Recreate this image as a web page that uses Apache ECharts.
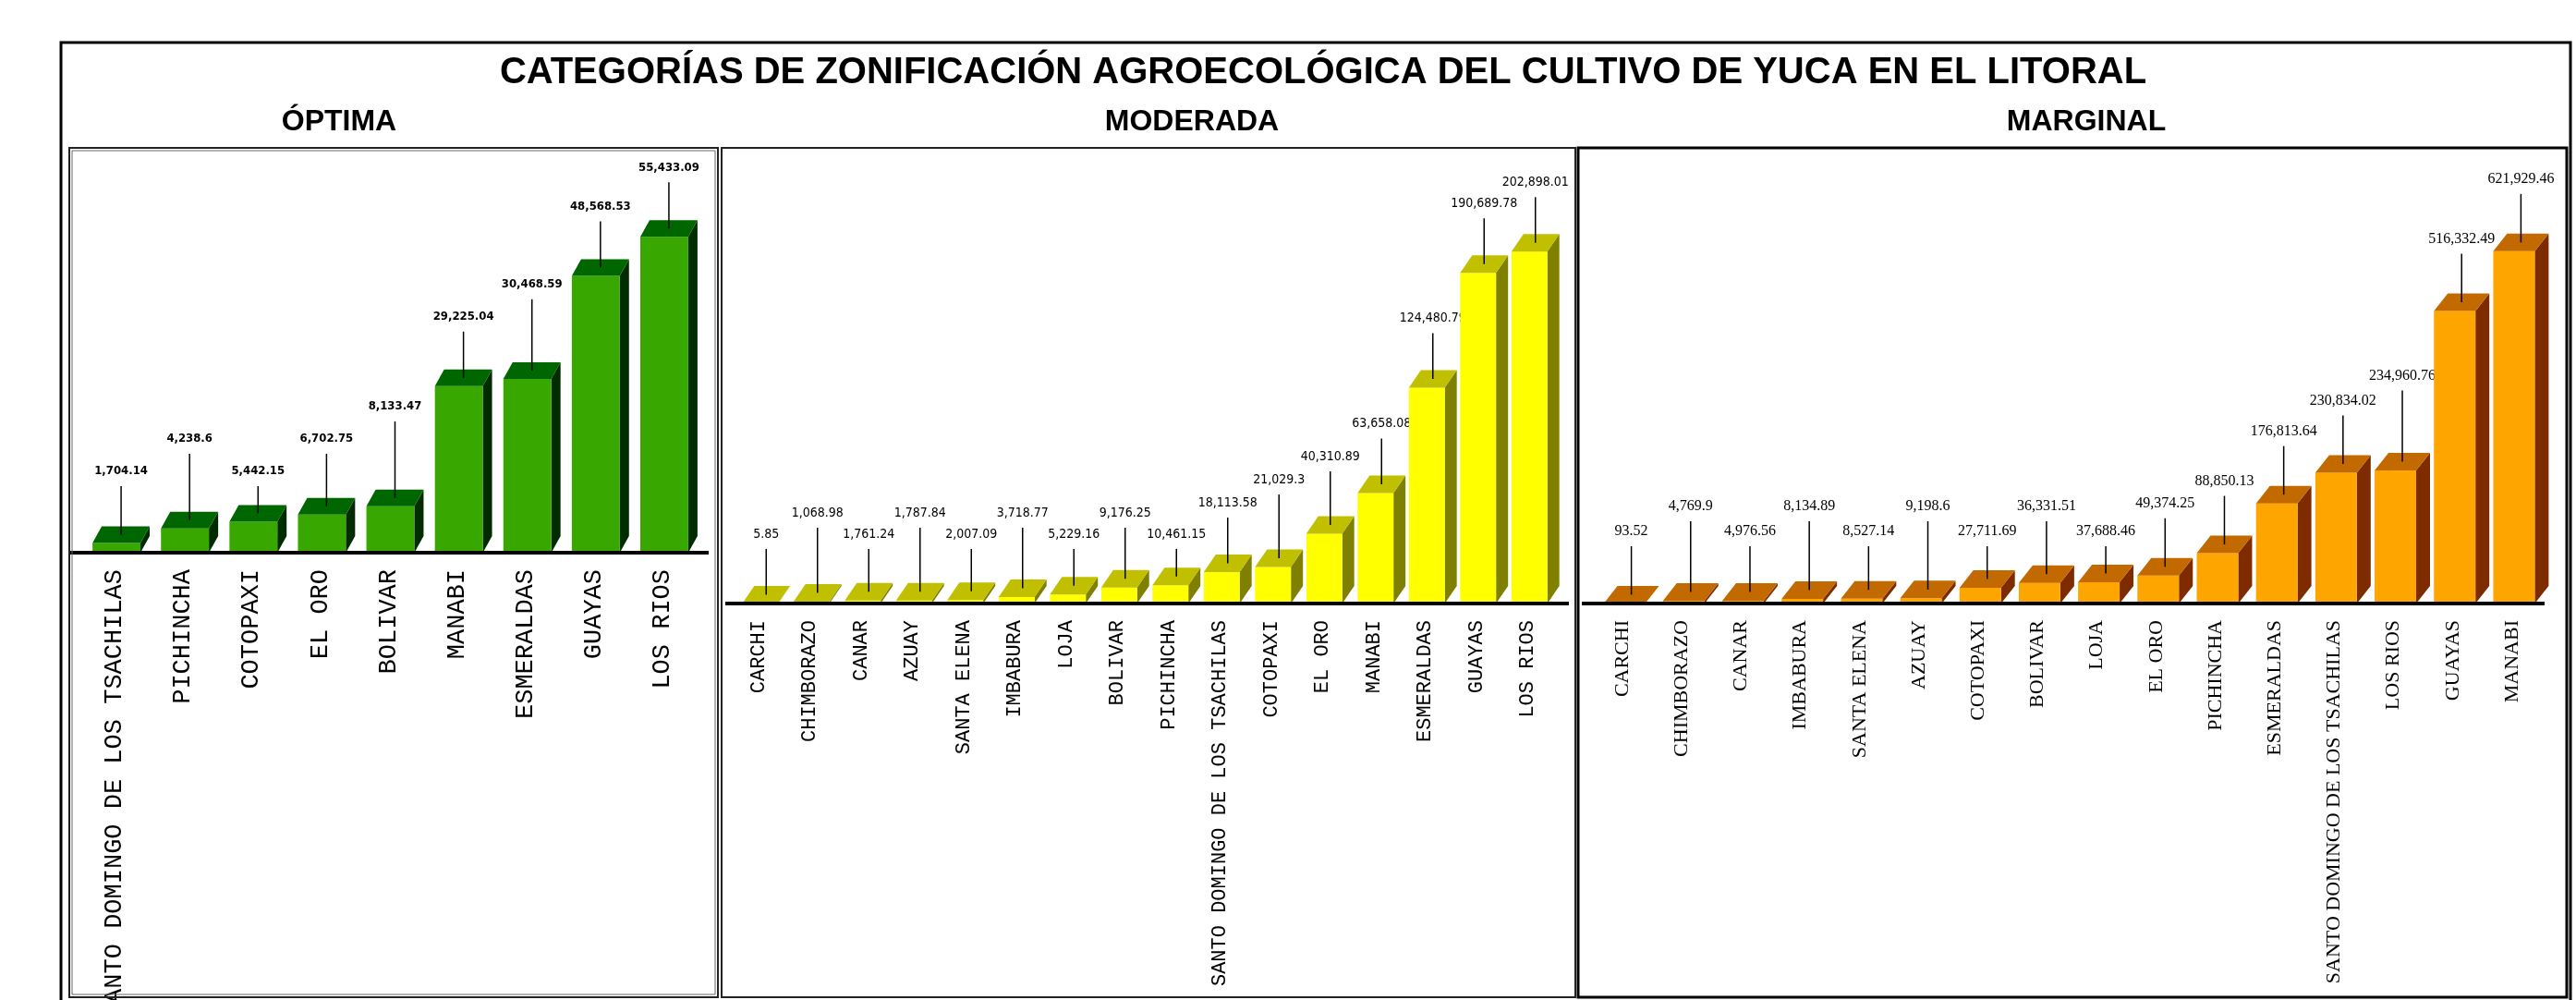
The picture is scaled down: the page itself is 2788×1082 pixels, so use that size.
<!DOCTYPE html>
<html>
<head>
<meta charset="utf-8">
<title>Zonificación agroecológica de la yuca</title>
<script src="https://cdn.jsdelivr.net/npm/echarts@6/dist/echarts.min.js"></script>
<style>
  html, body { margin: 0; padding: 0; background: #fff; }
  #chart { width: 2788px; height: 1082px; }
</style>
</head>
<body>
<div id="chart"></div>
<script>
// datos (superficie por provincia)
const optimaCats = ['SANTO DOMINGO DE LOS TSACHILAS', 'PICHINCHA', 'COTOPAXI', 'EL ORO', 'BOLIVAR', 'MANABI', 'ESMERALDAS', 'GUAYAS', 'LOS RIOS']
const optimaVals = [1704.14, 4238.6, 5442.15, 6702.75, 8133.47, 29225.04, 30468.59, 48568.53, 55433.09]

const moderadaCats = ['CARCHI', 'CHIMBORAZO', 'CANAR', 'AZUAY', 'SANTA ELENA', 'IMBABURA', 'LOJA', 'BOLIVAR', 'PICHINCHA', 'SANTO DOMINGO DE LOS TSACHILAS', 'COTOPAXI', 'EL ORO', 'MANABI', 'ESMERALDAS', 'GUAYAS', 'LOS RIOS']
const moderadaVals = [5.85, 1068.98, 1761.24, 1787.84, 2007.09, 3718.77, 5229.16, 9176.25, 10461.15, 18113.58, 21029.3, 40310.89, 63658.08, 124480.79, 190689.78, 202898.01]

const marginalCats = ['CARCHI', 'CHIMBORAZO', 'CANAR', 'IMBABURA', 'SANTA ELENA', 'AZUAY', 'COTOPAXI', 'BOLIVAR', 'LOJA', 'EL ORO', 'PICHINCHA', 'ESMERALDAS', 'SANTO DOMINGO DE LOS TSACHILAS', 'LOS RIOS', 'GUAYAS', 'MANABI']
const marginalVals = [93.52, 4769.9, 4976.56, 8134.89, 8527.14, 9198.6, 27711.69, 36331.51, 37688.46, 49374.25, 88850.13, 176813.64, 230834.02, 234960.76, 516332.49, 621929.46]

const TITLE = 'CATEGORÍAS DE ZONIFICACIÓN AGROECOLÓGICA DEL CULTIVO DE YUCA EN EL LITORAL'
const SUBTITLES = ['ÓPTIMA', 'MODERADA', 'MARGINAL']

const NARROW = '"Liberation Sans Narrow", "DejaVu Sans Condensed", sans-serif'

// estilo de cada panel (posiciones y colores, no datos)
const panels = [
  {
    cats: optimaCats, vals: optimaVals, max: 60000,
    grid: { left: 87, top: 228, width: 667, height: 370 },
    axisSpan: [76, 767],
    front: '#38A800', topc: '#006600', side: '#002C00',
    dx: 10, dy: 18,
    valFont: 'bold 13px ' + NARROW,
    lbl: { offset: 57, low: 88, gap: 35, lift: 35 },
    catFont: '"Liberation Mono", "Courier New", monospace', catSize: 27,
  },
  {
    cats: moderadaCats, vals: moderadaVals, max: 250000,
    grid: { left: 793, top: 184, width: 888, height: 469 },
    axisSpan: [785, 1698],
    front: '#FFFF00', topc: '#C0C000', side: '#808000',
    dx: 13, dy: 19,
    valFont: '14px ' + NARROW,
    lbl: { offset: 56, low: 75, gap: 23, lift: 25 },
    catFont: '"Liberation Mono", "Courier New", monospace', catSize: 22,
  },
  {
    cats: marginalCats, vals: marginalVals, max: 700000,
    grid: { left: 1724, top: 224, width: 1027, height: 429 },
    axisSpan: [1712, 2754],
    front: '#FFA500', topc: '#C26A00', side: '#7F2B00',
    dx: 15, dy: 19,
    valFont: '16px "Liberation Serif", "Times New Roman", serif',
    lbl: { offset: 59, low: 78, gap: 27, lift: 27 },
    catFont: '"Liberation Serif", "Times New Roman", serif', catSize: 22,
  },
]

function fmt(v) {
  return v.toLocaleString('en-US', { maximumFractionDigits: 2 })
}

// altura de las etiquetas: filas alternas para barras bajas, se suben si chocan
function labelLevels(api, p) {
  const baseY = api.coord([0, 0])[1]
  const low = baseY - p.lbl.low
  const high = low - p.lbl.gap
  const out = []
  p.vals.forEach((v, j) => {
    const ty = api.coord([j, v])[1]
    const nominal = ty - p.dy - p.lbl.offset
    let y = nominal > high ? (j % 2 ? high : low) : nominal
    if (j > 0 && Math.abs(y - out[j - 1]) < 22) y = out[j - 1] - p.lbl.lift
    out.push(y)
  })
  return out
}

function makeRender(p) {
  return function (params, api) {
    const i = params.dataIndex
    const base = api.coord([i, 0])
    const top = api.coord([i, api.value(1)])
    const band = api.size([1, 0])[0]
    const w = band * 0.7
    const x0 = base[0] - w / 2 + 2
    const x1 = x0 + w
    const by = base[1], ty = top[1]
    const { dx, dy } = p
    const ly = labelLevels(api, p)[i]
    const lx = (x0 + x1) / 2 + dx / 2
    return {
      type: 'group',
      children: [
        { type: 'polygon', shape: { points: [[x1, ty], [x1 + dx, ty - dy], [x1 + dx, by - dy], [x1, by]] }, style: { fill: p.side } },
        { type: 'rect', shape: { x: x0, y: ty, width: w, height: by - ty }, style: { fill: p.front } },
        { type: 'polygon', shape: { points: [[x0, ty], [x1, ty], [x1 + dx, ty - dy], [x0 + dx, ty - dy]] }, style: { fill: p.topc } },
        { type: 'line', shape: { x1: lx, y1: ly + 16, x2: lx, y2: ty - dy / 2 }, style: { stroke: '#000', lineWidth: 1.5 } },
        { type: 'text', style: { text: fmt(p.vals[i]), x: lx, y: ly, align: 'center', verticalAlign: 'middle', font: p.valFont, fill: '#000' } },
      ],
    }
  }
}

const chart = echarts.init(document.getElementById('chart'))

const subX = [362, 1285, 2253]

const option = {
  backgroundColor: '#fff',
  animation: false,
  title: [
    {
      text: TITLE, left: 1427, top: 54, textAlign: 'center',
      textStyle: { fontFamily: '"Liberation Sans", Arial, sans-serif', fontWeight: 'bold', fontSize: 40, color: '#000' },
    },
    ...SUBTITLES.map((t, k) => ({
      text: t, left: subX[k], top: 111, textAlign: 'center',
      textStyle: { fontFamily: '"Liberation Sans", Arial, sans-serif', fontWeight: 'bold', fontSize: 32, color: '#000' },
    })),
  ],
  // las etiquetas largas pueden salirse del lienzo: no encoger la rejilla
  grid: panels.map(p => ({ ...p.grid, containLabel: false, outerBoundsMode: 'none' })),
  xAxis: panels.map((p, k) => ({
    type: 'category', gridIndex: k, data: p.cats, boundaryGap: true, z: 5,
    axisLine: { lineStyle: { color: '#000', width: 4 } },
    axisTick: { alignWithLabel: true, length: 12, lineStyle: { color: '#000', width: 1.5 } },
    axisLabel: { rotate: 90, interval: 0, margin: 18, color: '#000', fontFamily: p.catFont, fontSize: p.catSize },
    splitLine: { show: false },
  })),
  yAxis: panels.map((p, k) => ({
    type: 'value', gridIndex: k, min: 0, max: p.max, show: false, splitLine: { show: false },
  })),
  series: panels.map((p, k) => ({
    type: 'custom', xAxisIndex: k, yAxisIndex: k, z: 3,
    renderItem: makeRender(p),
    data: p.vals.map((v, i) => [i, v]),
  })),
  graphic: [
    // marco exterior
    { type: 'rect', shape: { x: 66, y: 46, width: 2716, height: 1040 }, style: { fill: null, stroke: '#000', lineWidth: 3 }, z: 10 },
    // paneles
    { type: 'rect', shape: { x: 75, y: 160, width: 702, height: 919 }, style: { fill: null, stroke: '#222', lineWidth: 2 }, z: 10 },
    { type: 'rect', shape: { x: 78, y: 163, width: 696, height: 913 }, style: { fill: null, stroke: '#666', lineWidth: 1 }, z: 10 },
    { type: 'rect', shape: { x: 781, y: 160, width: 924, height: 919 }, style: { fill: null, stroke: '#222', lineWidth: 2 }, z: 10 },
    { type: 'rect', shape: { x: 1708, y: 160, width: 1070, height: 919 }, style: { fill: null, stroke: '#000', lineWidth: 3 }, z: 10 },
    // la línea base se prolonga un poco a ambos lados del eje
    ...panels.map(p => ({
      type: 'line', z: 6,
      shape: { x1: p.axisSpan[0], y1: p.grid.top + p.grid.height, x2: p.axisSpan[1], y2: p.grid.top + p.grid.height },
      style: { stroke: '#000', lineWidth: 4 },
    })),
  ],
}

chart.setOption(option)
</script>
</body>
</html>
